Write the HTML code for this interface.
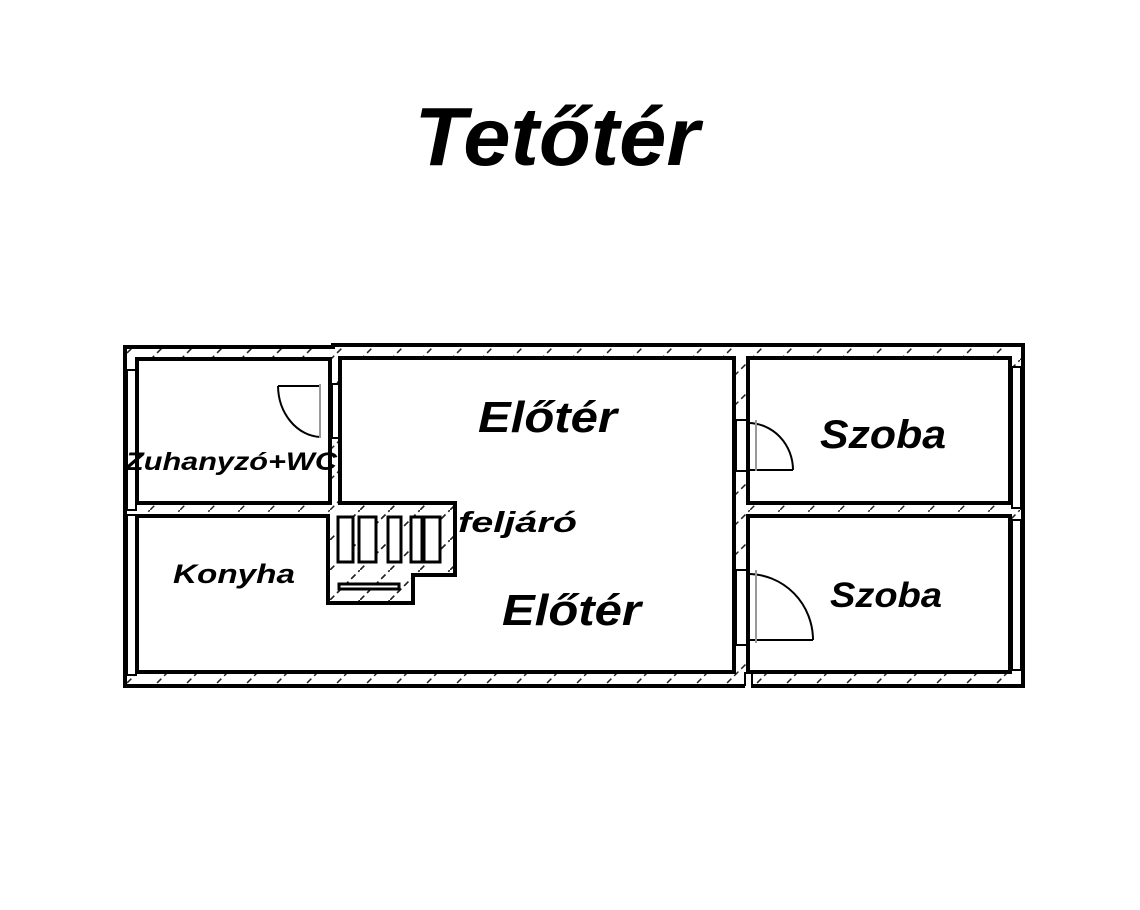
<!DOCTYPE html>
<html><head><meta charset="utf-8"><style>
html,body{margin:0;padding:0;background:#fff}
svg{display:block}
text{font-family:"Liberation Sans",sans-serif;font-weight:bold;font-style:italic;fill:#000}
</style></head><body>
<svg width="1140" height="910" viewBox="0 0 1140 910" xmlns="http://www.w3.org/2000/svg">
<defs>
<pattern id="h" width="30" height="30" patternUnits="userSpaceOnUse">
<line x1="0" y1="30" x2="30" y2="0" stroke="#222" stroke-width="1.5" stroke-dasharray="6 4"/>
</pattern>
</defs>
<text x="557" y="165" font-size="83" text-anchor="middle" textLength="285" lengthAdjust="spacingAndGlyphs">Tetőtér</text>

<path d="M125,347 L333,347 L333,345 L1023,345 L1023,686 L125,686 Z" fill="url(#h)" stroke="#000" stroke-width="4"/>

<rect x="137" y="359" width="193" height="144" fill="#fff" stroke="#000" stroke-width="4"/>
<path d="M340,358 L734,358 L734,672 L137,672 L137,516 L328,516 L328,603 L413,603 L413,575 L455,575 L455,503 L340,503 Z" fill="#fff" stroke="#000" stroke-width="4"/>
<path d="M328,516 L328,603 L413,603 L413,575 L455,575 L455,503 L340,503" fill="url(#h)" stroke="#000" stroke-width="4"/>
<rect x="748" y="358" width="262" height="145" fill="#fff" stroke="#000" stroke-width="4"/>
<rect x="748" y="516" width="262" height="156" fill="#fff" stroke="#000" stroke-width="4"/>

<g fill="#fff" stroke="#000" stroke-width="3">
<rect x="338" y="517" width="15" height="45"/>
<rect x="359" y="517" width="17" height="45"/>
<rect x="388" y="517" width="13" height="45"/>
<rect x="411" y="517" width="11" height="45"/>
<rect x="424" y="517" width="16" height="45"/>
<rect x="339" y="584" width="60" height="5"/>
</g>

<rect x="745" y="674" width="6" height="14" fill="#fff"/>
<line x1="745" y1="672" x2="745" y2="686" stroke="#000" stroke-width="2"/>
<line x1="752" y1="674" x2="752" y2="686" stroke="#000" stroke-width="2"/>

<g stroke="#000" stroke-width="2" fill="#fff">
<rect x="127" y="370" width="9" height="140"/>
<rect x="127" y="515" width="9" height="160"/>
<rect x="1012" y="367" width="9" height="141"/>
<rect x="1012" y="520" width="9" height="150"/>
</g>

<g fill="#fff" stroke="#000" stroke-width="2">
<rect x="332" y="384" width="7" height="54"/>
<rect x="736" y="420" width="11" height="51"/>
<rect x="736" y="570" width="11" height="75"/>
</g>
<g fill="none" stroke="#000" stroke-width="2">
<path d="M278,386 L320,386 M278,386 A44 52 0 0 0 320,437"/>
<path d="M748,470 L793,470 M748,423 A45 47 0 0 1 793,470"/>
<path d="M748,640 L813,640 M748,574 A65 66 0 0 1 813,640"/>
</g>
<g stroke="#999" stroke-width="2">
<line x1="320" y1="384" x2="320" y2="438"/>
<line x1="756" y1="420" x2="756" y2="471"/>
<line x1="756" y1="570" x2="756" y2="643"/>
</g>

<text x="478" y="432" font-size="44" textLength="139" lengthAdjust="spacingAndGlyphs">Előtér</text>
<text x="502" y="625" font-size="44" textLength="139" lengthAdjust="spacingAndGlyphs">Előtér</text>
<text x="820" y="448" font-size="40" textLength="126" lengthAdjust="spacingAndGlyphs">Szoba</text>
<text x="830" y="607" font-size="35" textLength="112" lengthAdjust="spacingAndGlyphs">Szoba</text>
<text x="125" y="470" font-size="25" textLength="212" lengthAdjust="spacingAndGlyphs">Zuhanyzó+WC</text>
<text x="173" y="583" font-size="27" textLength="122" lengthAdjust="spacingAndGlyphs">Konyha</text>
<text x="458" y="532" font-size="29" textLength="119" lengthAdjust="spacingAndGlyphs">feljáró</text>
</svg>
</body></html>
